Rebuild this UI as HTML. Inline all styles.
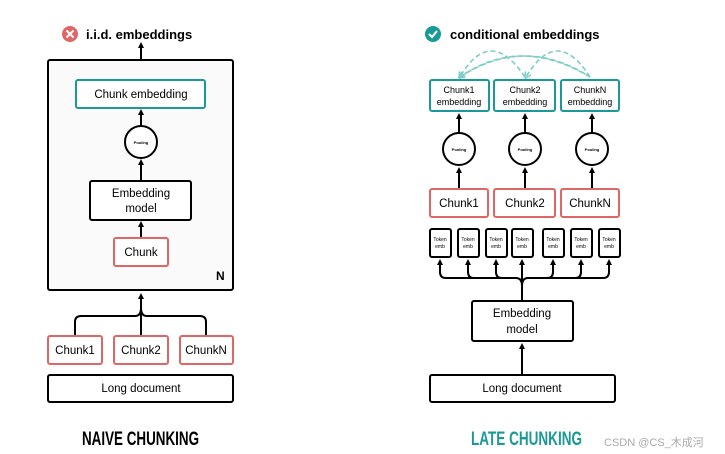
<!DOCTYPE html>
<html><head><meta charset="utf-8"><style>
html,body{margin:0;padding:0;background:#fff}
svg{display:block}
text{font-family:"Liberation Sans",sans-serif}
</style></head><body>
<svg width="725" height="454" viewBox="0 0 725 454" xmlns="http://www.w3.org/2000/svg">
<defs>
<marker id="ah" markerWidth="6" markerHeight="6" refX="3" refY="3" orient="auto" markerUnits="userSpaceOnUse" viewBox="0 0 6 6"><path d="M0,0 L6,3 L0,6 z" fill="#000"/></marker>
<marker id="ah2" markerWidth="7" markerHeight="7" refX="5" refY="3.5" orient="auto" markerUnits="userSpaceOnUse" viewBox="0 0 7 7"><path d="M0,0 L7,3.5 L0,7" fill="none" stroke="#7ecdc8" stroke-width="1.5"/></marker>
</defs>
<g stroke="#000" stroke-width="2" fill="none">
<line x1="141" y1="59" x2="141" y2="45" marker-end="url(#ah)"/>
<rect x="48" y="60" width="185" height="230" rx="2" fill="#fafafa"/>
<line x1="141" y1="126" x2="141" y2="112" marker-end="url(#ah)"/>
<circle cx="141" cy="142" r="16" fill="#fff"/>
<line x1="141" y1="180" x2="141" y2="162" marker-end="url(#ah)"/>
<rect x="90" y="181" width="101" height="39" rx="2" fill="#fff"/>
<line x1="141" y1="237" x2="141" y2="224" marker-end="url(#ah)"/>
<line x1="141" y1="335" x2="141" y2="296" marker-end="url(#ah)"/>
<path d="M75,335 V322 Q75,316 81,316 H135 Q141,316 141,308 Q141,316 147,316 H200 Q206,316 206,322 V335"/>
<rect x="48" y="375" width="185" height="27" rx="2" fill="#fff"/>
<line x1="459" y1="134" x2="459" y2="116" marker-end="url(#ah)"/>
<line x1="525" y1="134" x2="525" y2="116" marker-end="url(#ah)"/>
<line x1="592" y1="134" x2="592" y2="116" marker-end="url(#ah)"/>
<circle cx="459" cy="149" r="16" fill="#fff"/>
<circle cx="525" cy="149" r="16" fill="#fff"/>
<circle cx="592" cy="149" r="16" fill="#fff"/>
<line x1="459" y1="188" x2="459" y2="170" marker-end="url(#ah)"/>
<line x1="525" y1="188" x2="525" y2="170" marker-end="url(#ah)"/>
<line x1="592" y1="188" x2="592" y2="170" marker-end="url(#ah)"/>
<g fill="#fff">
<rect x="430" y="229" width="21" height="28" rx="2"/>
<rect x="458" y="229" width="21" height="28" rx="2"/>
<rect x="486" y="229" width="21" height="28" rx="2"/>
<rect x="512" y="229" width="21" height="28" rx="2"/>
<rect x="543" y="229" width="21" height="28" rx="2"/>
<rect x="571" y="229" width="21" height="28" rx="2"/>
<rect x="599" y="229" width="21" height="28" rx="2"/>
</g>
<path d="M440,265 V272 Q440,278 446,278 H516 Q522,278 522,286 M609,265 V272 Q609,278 603,278 H528 Q522,278 522,286"/>
<path d="M468,265 V272 Q468,278 474,278 M496,265 V272 Q496,278 502,278 M581,265 V272 Q581,278 575,278 M553,265 V272 Q553,278 547,278"/>
<line x1="440" y1="272" x2="440" y2="262" marker-end="url(#ah)"/>
<line x1="468" y1="272" x2="468" y2="262" marker-end="url(#ah)"/>
<line x1="496" y1="272" x2="496" y2="262" marker-end="url(#ah)"/>
<line x1="522" y1="300" x2="522" y2="262" marker-end="url(#ah)"/>
<line x1="553" y1="272" x2="553" y2="262" marker-end="url(#ah)"/>
<line x1="581" y1="272" x2="581" y2="262" marker-end="url(#ah)"/>
<line x1="609" y1="272" x2="609" y2="262" marker-end="url(#ah)"/>
<rect x="472" y="301" width="101" height="40" rx="2" fill="#fff"/>
<line x1="522" y1="374" x2="522" y2="346" marker-end="url(#ah)"/>
<rect x="430" y="375" width="185" height="27" rx="2" fill="#fff"/>
</g>
<g stroke-width="2" fill="#fff">
<rect x="76" y="80" width="129" height="28" rx="2" stroke="#1a9a96"/>
<rect x="114" y="238" width="54" height="28" rx="2" stroke="#e06666"/>
<rect x="48" y="336" width="54" height="28" rx="2" stroke="#e06666"/>
<rect x="114" y="336" width="54" height="28" rx="2" stroke="#e06666"/>
<rect x="180" y="336" width="53" height="28" rx="2" stroke="#e06666"/>
<rect x="430" y="80" width="59" height="31" rx="2" stroke="#1a9a96"/>
<rect x="494" y="80" width="61" height="31" rx="2" stroke="#1a9a96"/>
<rect x="561" y="80" width="58" height="31" rx="2" stroke="#1a9a96"/>
<rect x="430" y="189" width="58" height="28" rx="2" stroke="#e06666"/>
<rect x="494" y="189" width="61" height="28" rx="2" stroke="#e06666"/>
<rect x="561" y="189" width="58" height="28" rx="2" stroke="#e06666"/>
</g>
<g stroke="#7ecdc8" stroke-width="1.6" fill="none" stroke-dasharray="5,3">
<path d="M525,77 Q490,25 460,77" marker-end="url(#ah2)"/>
<path d="M590,77 Q520,35 460,77" marker-end="url(#ah2)"/>
<path d="M590,77 Q557,25 526,77" marker-end="url(#ah2)"/>
<path d="M460,77 Q525,35 590,77"/>
</g>
<circle cx="70" cy="34" r="8" fill="#e06666"/>
<path d="M66.5,30.5 L73.5,37.5 M73.5,30.5 L66.5,37.5" stroke="#fff" stroke-width="2"/>
<circle cx="433" cy="34" r="8" fill="#1a9a96"/>
<path d="M429,34 L432,37 L437,31" stroke="#fff" stroke-width="2" fill="none"/>
<g font-size="13" font-weight="bold" fill="#000">
<text x="86" y="39">i.i.d. embeddings</text>
<text x="450" y="39">conditional embeddings</text>
<text x="216" y="280" font-size="12">N</text>
</g>
<g font-size="11.5" fill="#000" text-anchor="middle">
<text x="141" y="98">Chunk embedding</text>
<text x="141" y="197">Embedding</text>
<text x="141" y="212">model</text>
<text x="141" y="256">Chunk</text>
<text x="75" y="354">Chunk1</text>
<text x="141" y="354">Chunk2</text>
<text x="206" y="354">ChunkN</text>
<text x="141" y="392">Long document</text>
<text x="459" y="207">Chunk1</text>
<text x="525" y="207">Chunk2</text>
<text x="590" y="207">ChunkN</text>
<text x="522" y="317">Embedding</text>
<text x="522" y="333">model</text>
<text x="522" y="392">Long document</text>
</g>
<g font-size="9" fill="#000" text-anchor="middle">
<text x="459" y="93">Chunk1</text><text x="459" y="105">embedding</text>
<text x="525" y="93">Chunk2</text><text x="525" y="105">embedding</text>
<text x="590" y="93">ChunkN</text><text x="590" y="105">embedding</text>
</g>
<g font-size="4" font-weight="bold" fill="#000" text-anchor="middle">
<text x="141" y="144">Pooling</text>
<text x="459" y="151">Pooling</text>
<text x="525" y="151">Pooling</text>
<text x="592" y="151">Pooling</text>
</g>
<g font-size="5" fill="#000" text-anchor="middle">
<text x="440" y="241">Token</text><text x="440" y="248">emb</text>
<text x="468" y="241">Token</text><text x="468" y="248">emb</text>
<text x="496" y="241">Token</text><text x="496" y="248">emb</text>
<text x="522" y="241">Token</text><text x="522" y="248">emb</text>
<text x="553" y="241">Token</text><text x="553" y="248">emb</text>
<text x="581" y="241">Token</text><text x="581" y="248">emb</text>
<text x="609" y="241">Token</text><text x="609" y="248">emb</text>
</g>
<text x="82" y="445" font-size="19" font-weight="bold" textLength="117" lengthAdjust="spacingAndGlyphs" fill="#000">NAIVE CHUNKING</text>
<text x="471" y="445" font-size="19" font-weight="bold" textLength="111" lengthAdjust="spacingAndGlyphs" fill="#1a9a96">LATE CHUNKING</text>
<text x="604" y="446" font-size="11" fill="#aaa" font-family="'Liberation Sans','Noto Sans CJK SC',sans-serif">CSDN @CS_木成河</text>
</svg>
</body></html>
